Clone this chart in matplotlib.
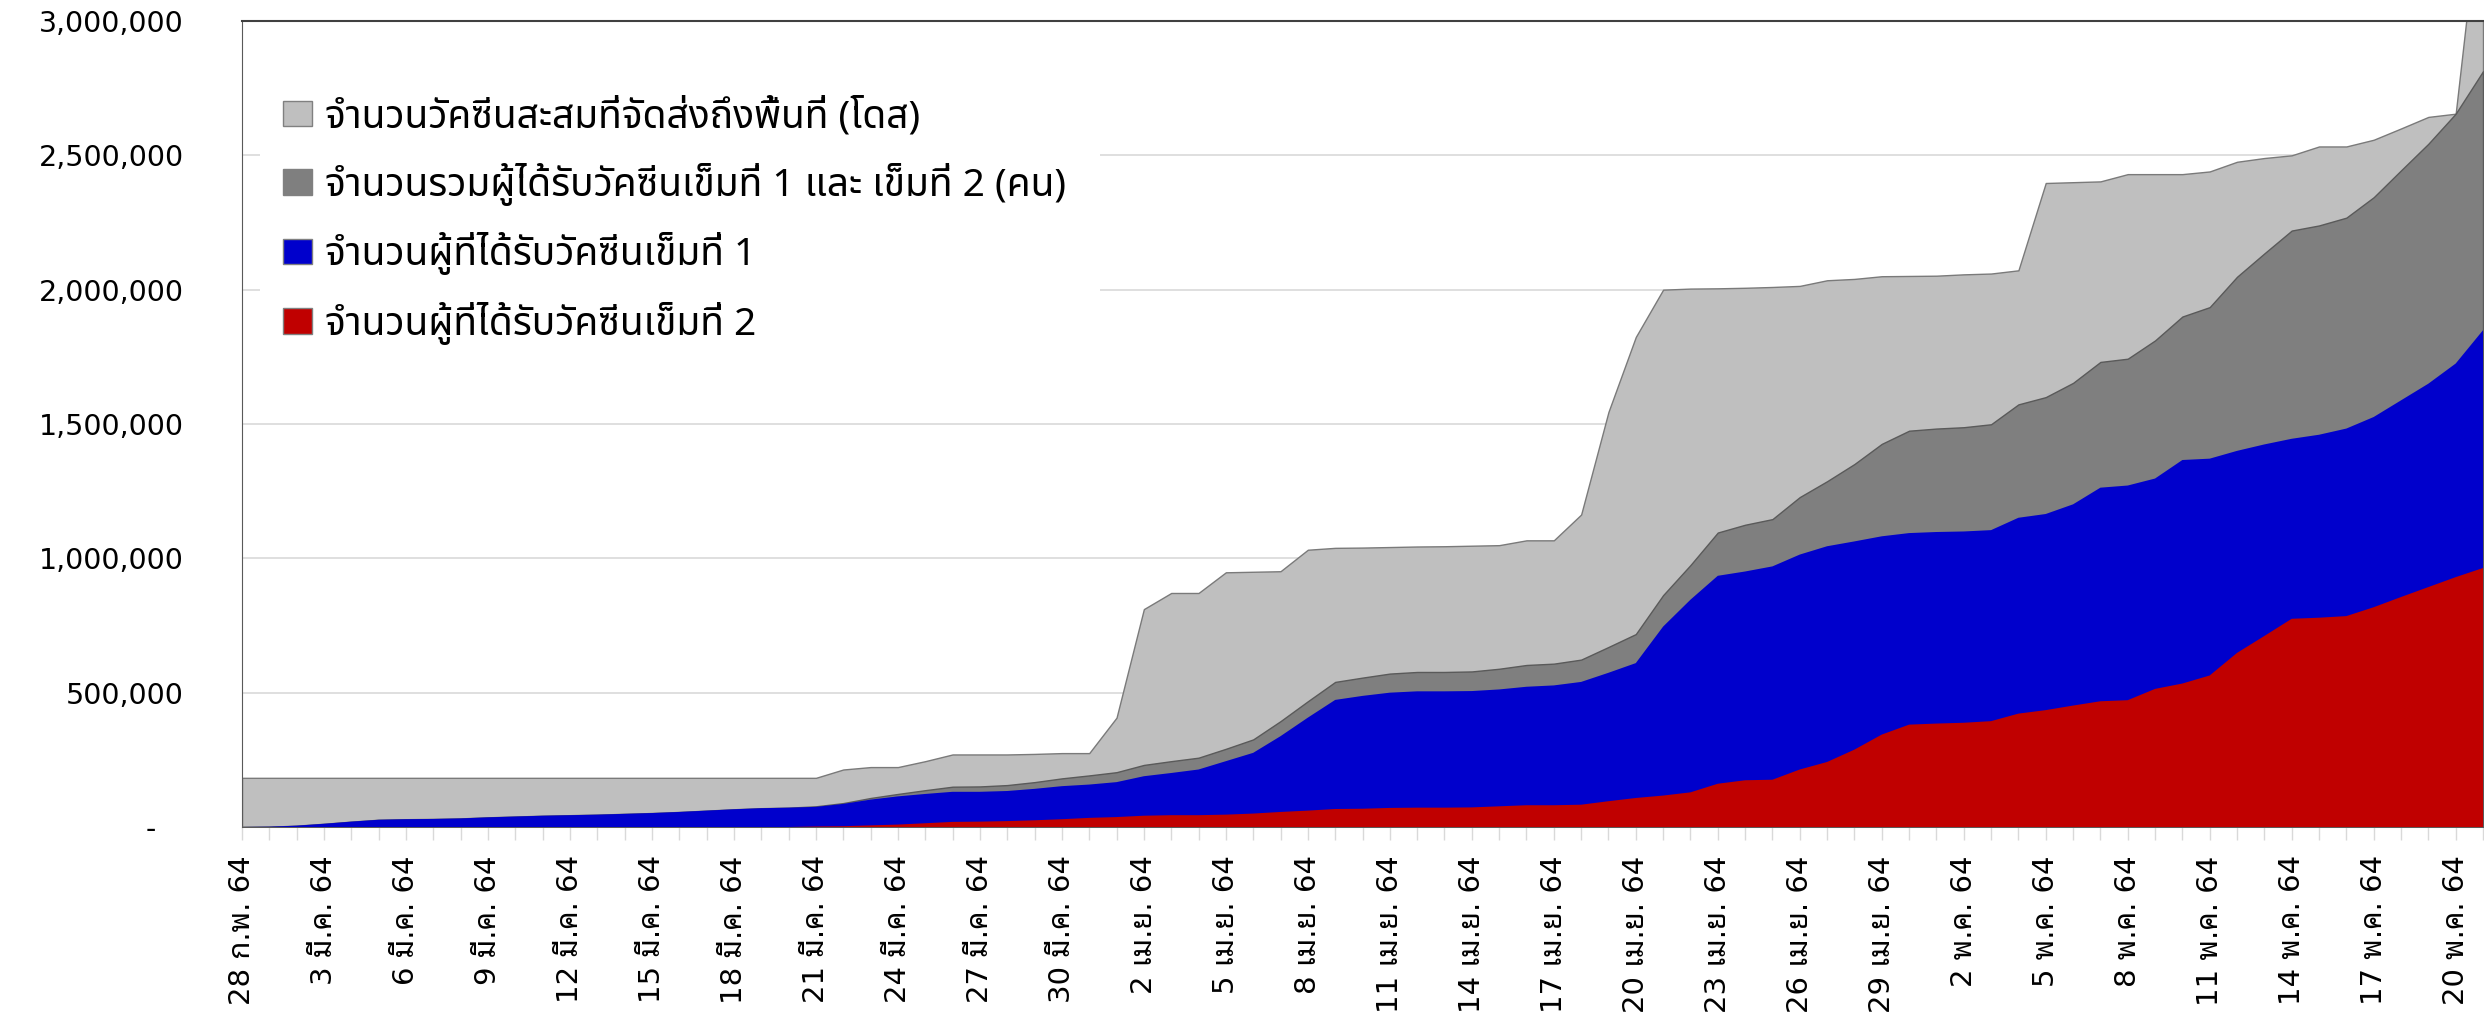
import matplotlib

matplotlib.use("Agg")
import matplotlib.pyplot as plt
import numpy as np
from matplotlib.patches import Patch, Rectangle
from matplotlib.ticker import FuncFormatter

# cumulative doses delivered to the provinces (doses)
delivered = [
    183000, 183000, 183000, 183000, 183000, 183000, 183000, 183000, 183000, 183000,
    183000, 183000, 183000, 183000, 183000, 183000, 183000, 183000, 183000, 183000,
    183000, 183000, 214000, 223000, 223000, 245000, 270000, 270000, 270000, 272000,
    275000, 275000, 407000, 811000, 871000, 871000, 948000, 950000, 952000, 1032000,
    1039000, 1040000, 1042000, 1044000, 1045000, 1047000, 1049000, 1067000, 1067000, 1163000,
    1545000, 1824000, 2000000, 2004000, 2005000, 2007000, 2010000, 2014000, 2035000, 2040000,
    2050000, 2051000, 2052000, 2057000, 2060000, 2072000, 2397000, 2400000, 2403000, 2430000,
    2430000, 2430000, 2440000, 2476000, 2490000, 2500000, 2533000, 2533000, 2558000, 2600000,
    2643000, 2655000, 3550000,
]
# dose 1 + dose 2 (people)
total_doses = [
    0, 1000, 5000, 12000, 20000, 27000, 29000, 30000, 32000, 36000,
    39000, 42000, 44000, 46000, 49000, 52000, 56000, 61000, 66000, 70000,
    72000, 77000, 89000, 108000, 123000, 137000, 150000, 151000, 156000, 167000,
    181000, 192000, 204000, 231000, 245000, 258000, 291000, 326000, 394000, 468000,
    540000, 556000, 571000, 577000, 577000, 579000, 589000, 603000, 608000, 623000,
    670000, 718000, 863000, 975000, 1096000, 1125000, 1146000, 1228000, 1287000, 1351000,
    1426000, 1475000, 1483000, 1488000, 1499000, 1573000, 1600000, 1653000, 1731000, 1743000,
    1811000, 1900000, 1935000, 2048000, 2135000, 2220000, 2239000, 2268000, 2344000, 2444000,
    2543000, 2655000, 2813000,
]
dose1 = [
    0, 1000, 5000, 12000, 20000, 27000, 29000, 30000, 32000, 36000,
    39000, 42000, 44000, 46000, 49000, 52000, 56000, 61000, 66000, 70000,
    72000, 75000, 86000, 102000, 114000, 123000, 131000, 131000, 134000, 142000,
    152000, 158000, 167000, 189000, 201000, 214000, 245000, 276000, 338000, 407000,
    473000, 488000, 500000, 505000, 505000, 506000, 512000, 522000, 527000, 540000,
    574000, 610000, 746000, 846000, 935000, 951000, 970000, 1014000, 1045000, 1063000,
    1082000, 1094000, 1098000, 1100000, 1105000, 1151000, 1165000, 1201000, 1263000, 1271000,
    1297000, 1366000, 1371000, 1400000, 1424000, 1445000, 1460000, 1483000, 1526000, 1588000,
    1650000, 1725000, 1849000,
]
dose2 = [
    0, 0, 0, 0, 0, 0, 0, 0, 0, 0,
    0, 0, 0, 0, 0, 0, 0, 0, 0, 0,
    0, 2000, 3000, 6000, 9000, 14000, 19000, 20000, 22000, 25000,
    29000, 34000, 37000, 42000, 44000, 44000, 46000, 50000, 56000, 61000,
    67000, 68000, 71000, 72000, 72000, 73000, 77000, 81000, 81000, 83000,
    96000, 108000, 117000, 129000, 161000, 174000, 176000, 214000, 242000, 288000,
    344000, 381000, 385000, 388000, 394000, 422000, 435000, 452000, 468000, 472000,
    514000, 534000, 564000, 648000, 711000, 775000, 779000, 785000, 818000, 856000,
    893000, 930000, 964000,
]
# one label every third day, starting 28 Feb 2564
tick_labels = [
    "28 ก.พ. 64", "3 มี.ค. 64", "6 มี.ค. 64", "9 มี.ค. 64", "12 มี.ค. 64",
    "15 มี.ค. 64", "18 มี.ค. 64", "21 มี.ค. 64", "24 มี.ค. 64", "27 มี.ค. 64",
    "30 มี.ค. 64", "2 เม.ย. 64", "5 เม.ย. 64", "8 เม.ย. 64", "11 เม.ย. 64",
    "14 เม.ย. 64", "17 เม.ย. 64", "20 เม.ย. 64", "23 เม.ย. 64", "26 เม.ย. 64",
    "29 เม.ย. 64", "2 พ.ค. 64", "5 พ.ค. 64", "8 พ.ค. 64", "11 พ.ค. 64",
    "14 พ.ค. 64", "17 พ.ค. 64", "20 พ.ค. 64",
]
series_names = [
    "จำนวนวัคซีนสะสมที่จัดส่งถึงพื้นที่ (โดส)",
    "จำนวนรวมผู้ได้รับวัคซีนเข็มที่ 1 และ เข็มที่ 2 (คน)",
    "จำนวนผู้ที่ได้รับวัคซีนเข็มที่ 1",
    "จำนวนผู้ที่ได้รับวัคซีนเข็มที่ 2",
]
colors = ["#bfbfbf", "#7f7f7f", "#0000cc", "#c00000"]
edges = ["#7a7a7a", "#5a5a5a", "none", "none"]

x = np.arange(len(delivered))
thai_ticks = ["DejaVu Sans", "Noto Sans Thai Looped"]
thai_legend = ["Noto Sans Thai", "Noto Sans"]

fig = plt.figure(figsize=(24.84, 10.17), dpi=100)
ax = fig.add_axes([242 / 2484, 1 - 827 / 1017, 2241 / 2484, 806 / 1017])

for i, vals in enumerate([delivered, total_doses, dose1, dose2]):
    ax.fill_between(
        x, 0, vals, facecolor=colors[i], edgecolor=edges[i],
        linewidth=1.0 if edges[i] != "none" else 0, zorder=2 + i,
    )

ax.set_xlim(0, len(x) - 1)
ax.set_ylim(0, 3000000)
ax.set_yticks(np.arange(0, 3000001, 500000))
ax.yaxis.set_major_formatter(
    FuncFormatter(lambda v, p: "-   " if v == 0 else f"{v:,.0f}")
)
ax.tick_params(axis="y", length=0, pad=42, labelsize=20.5)
for lab in ax.get_yticklabels():
    lab.set_family("DejaVu Sans")

ax.set_xticks(x)
labels = [""] * len(x)
for k, t in enumerate(tick_labels):
    labels[k * 3] = t
ax.set_xticklabels(labels, rotation=90, fontsize=21, family=thai_ticks)
ax.tick_params(axis="x", length=9.4, width=1.0, color="#d9d9d9", pad=11)

ax.yaxis.grid(True, color="#d9d9d9", linewidth=1.2)
ax.set_axisbelow(True)
ax.spines["right"].set_visible(False)
ax.spines["left"].set_color("#595959")
ax.spines["top"].set_color("#404040")
ax.spines["top"].set_linewidth(1.5)
ax.spines["bottom"].set_color("#d9d9d9")

# white box behind the legend hides the gridlines
ax.add_patch(Rectangle((0.008, 0.58), 0.375, 0.395, transform=ax.transAxes,
                       facecolor="white", edgecolor="none", zorder=1))
handles = [Patch(facecolor=c, edgecolor="#808080", linewidth=1.0) for c in colors]
ax.legend(
    handles, series_names, loc="upper left", bbox_to_anchor=(0.0183, 0.906),
    frameon=False, borderpad=0, borderaxespad=0, handlelength=0.75,
    handleheight=0.62, handletextpad=0.34, labelspacing=0.68,
    prop={"family": thai_legend, "size": 28},
)

fig.savefig("out.png", dpi=100)
